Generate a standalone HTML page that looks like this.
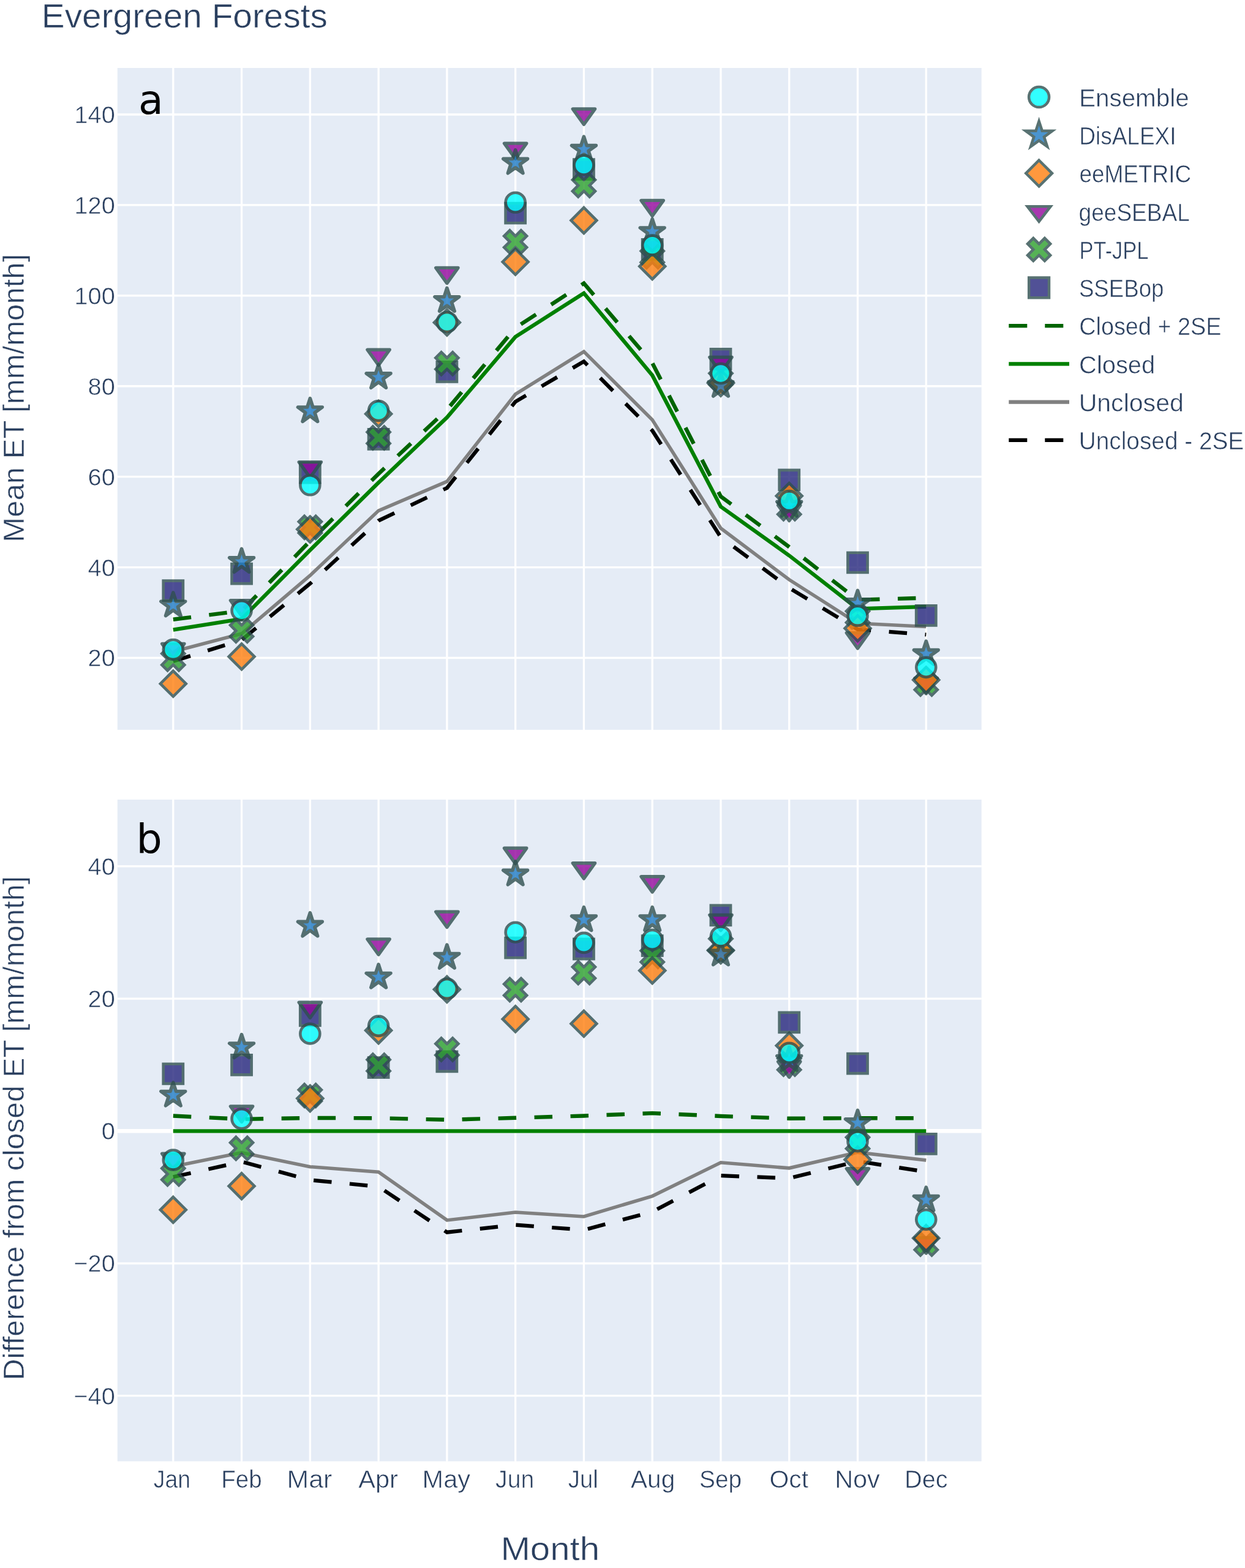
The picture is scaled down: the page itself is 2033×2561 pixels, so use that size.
<!DOCTYPE html>
<html lang="en"><head><meta charset="utf-8"><title>Evergreen Forests</title>
<style>html,body{margin:0;padding:0;background:#fff}body{width:2033px;height:2561px;overflow:hidden}svg{display:block}text{font-family:"Liberation Sans",sans-serif;fill:#2a3f5f;stroke:#fff;stroke-width:0.6px}.ann{font-family:"DejaVu Sans",sans-serif;fill:#000;stroke:none}</style>
</head><body>
<svg width="2033" height="2561" viewBox="0 0 2033 2561">
<defs>
<g id="m-circle" fill="#00ffff" stroke="#2f4f4f" stroke-width="4.6" opacity="0.8"><circle r="16"/></g>
<g id="l-circle" fill="#00ffff" stroke="#2f4f4f" stroke-width="4.5" opacity="0.8"><circle r="16.5"/></g>
<g id="m-star" fill="#1e7ac4" stroke="#2f4f4f" stroke-width="4.6" opacity="0.8"><path d="M4.7,-6.46H19.88L7.59,2.47L12.29,16.91L0,7.98L-12.29,16.91L-7.59,2.47L-19.88,-6.46H-4.7L0,-20.9Z" stroke-linejoin="round" stroke-width="5.6"/></g>
<g id="l-star" fill="#1e7ac4" stroke="#2f4f4f" stroke-width="4.5" opacity="0.8"><path d="M5.17,-7.09H21.83L8.33,2.71L13.5,18.57L0,8.77L-13.5,18.57L-8.33,2.71L-21.83,-7.09H-5.17L0,-22.96Z"/></g>
<g id="m-diamond" fill="#ff7f0e" stroke="#2f4f4f" stroke-width="4.6" opacity="0.8"><path d="M0,-20.9L20.9,0L0,20.9L-20.9,0Z"/></g>
<g id="l-diamond" fill="#ff7f0e" stroke="#2f4f4f" stroke-width="4.5" opacity="0.8"><path d="M0,-21.32L21.32,0L0,21.32L-21.32,0Z"/></g>
<g id="m-tri" fill="#93069c" stroke="#2f4f4f" stroke-width="4.6" opacity="0.8"><path d="M-18.15,-8.4H18.15L0,16.9Z" stroke-linejoin="round" stroke-width="5.4"/></g>
<g id="l-tri" fill="#93069c" stroke="#2f4f4f" stroke-width="4.5" opacity="0.8"><path d="M-18.94,-8.2H18.94L0,16.4Z"/></g>
<g id="m-x" fill="#2ca02c" stroke="#2f4f4f" stroke-width="4.6" opacity="0.8"><path d="M0,9.25l9.25,9.25l9.25,-9.25l-9.25,-9.25l9.25,-9.25l-9.25,-9.25l-9.25,9.25l-9.25,-9.25l-9.25,9.25l9.25,9.25l-9.25,9.25l9.25,9.25Z"/></g>
<g id="l-x" fill="#2ca02c" stroke="#2f4f4f" stroke-width="4.5" opacity="0.8"><path d="M0,9.28l9.28,9.28l9.28,-9.28l-9.28,-9.28l9.28,-9.28l-9.28,-9.28l-9.28,9.28l-9.28,-9.28l-9.28,9.28l9.28,9.28l-9.28,9.28l9.28,9.28Z"/></g>
<g id="m-square" fill="#26267c" stroke="#2f4f4f" stroke-width="4.6" opacity="0.8"><path d="M-16.1,-16.1H16.1V16.1H-16.1Z"/></g>
<g id="l-square" fill="#26267c" stroke="#2f4f4f" stroke-width="4.5" opacity="0.8"><path d="M-16.4,-16.4H16.4V16.4H-16.4Z"/></g>
<clipPath id="c1"><rect x="191.8" y="111" width="1410.9" height="1081"/></clipPath>
<clipPath id="c2"><rect x="191.8" y="1306" width="1410.9" height="1080.7"/></clipPath>
</defs>
<rect width="2033" height="2561" fill="#fff"/>
<g id="plot1">
<rect x="191.8" y="111" width="1410.9" height="1081" fill="#e5ecf6"/>
<path d="M282.8,111V1192M394.57,111V1192M506.34,111V1192M618.11,111V1192M729.88,111V1192M841.65,111V1192M953.42,111V1192M1065.19,111V1192M1176.96,111V1192M1288.73,111V1192M1400.5,111V1192M1512.27,111V1192M191.8,1074.52H1602.7M191.8,926.6H1602.7M191.8,778.68H1602.7M191.8,630.76H1602.7M191.8,482.84H1602.7M191.8,334.92H1602.7M191.8,187H1602.7" stroke="#fff" stroke-width="3.3" fill="none"/>
<g clip-path="url(#c1)">
<path d="M282.8,1079.99L394.57,1045.23L506.34,953.23L618.11,850.42L729.88,796.95L841.65,656.02L953.42,590.34L1065.19,703.24L1176.96,877.34L1288.73,960.18L1400.5,1028L1512.27,1036.5" fill="none" stroke="#000000" stroke-width="6.2" stroke-dasharray="29.5 29.5" stroke-linejoin="miter"/>
<path d="M282.8,1064.31L394.57,1035.03L506.34,939.93L618.11,834.08L729.88,786.42L841.65,643.97L953.42,574.33L1065.19,685.71L1176.96,862.7L1288.73,946.79L1400.5,1018.09L1512.27,1023.56" fill="none" stroke="#808080" stroke-width="5.6" stroke-linejoin="miter"/>
<path d="M282.8,1028.66L394.57,1010.91L506.34,898.5L618.11,788.29L729.88,681.79L841.65,550.14L953.42,478.77L1065.19,613.01L1176.96,827.49L1288.73,907.37L1400.5,994.27L1512.27,990.95" fill="none" stroke="#008000" stroke-width="6.2" stroke-linejoin="miter"/>
<path d="M282.8,1011.73L394.57,997.68L506.34,883.85L618.11,773.87L729.88,669.22L841.65,535.43L953.42,462.76L1065.19,593.04L1176.96,810.85L1288.73,893.32L1400.5,979.85L1512.27,976.52" fill="none" stroke="#006400" stroke-width="6.4" stroke-dasharray="29.5 29.5" stroke-linejoin="miter"/>
<g><use href="#m-square" x="282.8" y="964.69"/><use href="#m-square" x="394.57" y="937.03"/><use href="#m-square" x="506.34" y="772.08"/><use href="#m-square" x="618.11" y="717.37"/><use href="#m-square" x="729.88" y="607.33"/><use href="#m-square" x="841.65" y="348.12"/><use href="#m-square" x="953.42" y="276.58"/><use href="#m-square" x="1065.19" y="407.32"/><use href="#m-square" x="1176.96" y="586.38"/><use href="#m-square" x="1288.73" y="783.93"/><use href="#m-square" x="1400.5" y="918.83"/><use href="#m-square" x="1512.27" y="1005.37"/></g>
<g><use href="#m-x" x="282.8" y="1076.74"/><use href="#m-x" x="394.57" y="1030.29"/><use href="#m-x" x="506.34" y="861.35"/><use href="#m-x" x="618.11" y="714.93"/><use href="#m-x" x="729.88" y="593.73"/><use href="#m-x" x="841.65" y="394.87"/><use href="#m-x" x="953.42" y="302.91"/><use href="#m-x" x="1065.19" y="419.16"/><use href="#m-x" x="1176.96" y="618.93"/><use href="#m-x" x="1288.73" y="830.67"/><use href="#m-x" x="1400.5" y="1007.59"/><use href="#m-x" x="1512.27" y="1117.27"/></g>
<g><use href="#m-tri" x="282.8" y="1059.73"/><use href="#m-tri" x="394.57" y="989.1"/><use href="#m-tri" x="506.34" y="762.99"/><use href="#m-tri" x="618.11" y="579.58"/><use href="#m-tri" x="729.88" y="445.73"/><use href="#m-tri" x="841.65" y="242.51"/><use href="#m-tri" x="953.42" y="186.35"/><use href="#m-tri" x="1065.19" y="335.8"/><use href="#m-tri" x="1176.96" y="591.86"/><use href="#m-tri" x="1288.73" y="833.63"/><use href="#m-tri" x="1400.5" y="1042.05"/><use href="#m-tri" x="1512.27" y="1115.94"/></g>
<g><use href="#m-diamond" x="282.8" y="1116.68"/><use href="#m-diamond" x="394.57" y="1072.45"/><use href="#m-diamond" x="506.34" y="864.61"/><use href="#m-diamond" x="618.11" y="675.88"/><use href="#m-diamond" x="729.88" y="526.72"/><use href="#m-diamond" x="841.65" y="427.7"/><use href="#m-diamond" x="953.42" y="360.01"/><use href="#m-diamond" x="1065.19" y="435.06"/><use href="#m-diamond" x="1176.96" y="625.58"/><use href="#m-diamond" x="1288.73" y="809.96"/><use href="#m-diamond" x="1400.5" y="1026.22"/><use href="#m-diamond" x="1512.27" y="1110.61"/></g>
<g><use href="#m-star" x="282.8" y="988.73"/><use href="#m-star" x="394.57" y="917.36"/><use href="#m-star" x="506.34" y="671.5"/><use href="#m-star" x="618.11" y="616.34"/><use href="#m-star" x="729.88" y="491.22"/><use href="#m-star" x="841.65" y="265.88"/><use href="#m-star" x="953.42" y="244.11"/><use href="#m-star" x="1065.19" y="378.48"/><use href="#m-star" x="1176.96" y="630.02"/><use href="#m-star" x="1288.73" y="825.86"/><use href="#m-star" x="1400.5" y="985.32"/><use href="#m-star" x="1512.27" y="1068.09"/></g>
<g><use href="#m-circle" x="282.8" y="1060.99"/><use href="#m-circle" x="394.57" y="997.23"/><use href="#m-circle" x="506.34" y="792.27"/><use href="#m-circle" x="618.11" y="670.99"/><use href="#m-circle" x="729.88" y="525.98"/><use href="#m-circle" x="841.65" y="330.74"/><use href="#m-circle" x="953.42" y="269.63"/><use href="#m-circle" x="1065.19" y="400.67"/><use href="#m-circle" x="1176.96" y="610.05"/><use href="#m-circle" x="1288.73" y="818.1"/><use href="#m-circle" x="1400.5" y="1005.81"/><use href="#m-circle" x="1512.27" y="1089.83"/></g>
</g>
</g>
<g id="plot2">
<rect x="191.8" y="1306" width="1410.9" height="1080.7" fill="#e5ecf6"/>
<path d="M282.8,1306V2386.7M394.57,1306V2386.7M506.34,1306V2386.7M618.11,1306V2386.7M729.88,1306V2386.7M841.65,1306V2386.7M953.42,1306V2386.7M1065.19,1306V2386.7M1176.96,1306V2386.7M1288.73,1306V2386.7M1400.5,1306V2386.7M1512.27,1306V2386.7M191.8,2279.7H1602.7M191.8,2063.5H1602.7M191.8,1631.1H1602.7M191.8,1414.9H1602.7" stroke="#fff" stroke-width="3.3" fill="none"/>
<path d="M191.8,1847.3H1602.7" stroke="#fff" stroke-width="6.6" fill="none"/>
<g clip-path="url(#c2)">
<path d="M282.8,1922.32L394.57,1897.46L506.34,1927.29L618.11,1938.1L729.88,2012.69L841.65,2000.59L953.42,2008.91L1065.19,1979.18L1176.96,1920.16L1288.73,1924.48L1400.5,1896.59L1512.27,1913.89" fill="none" stroke="#000000" stroke-width="6.2" stroke-dasharray="29.5 29.5" stroke-linejoin="miter"/>
<path d="M282.8,1905.24L394.57,1882.54L506.34,1905.67L618.11,1914.21L729.88,1992.91L841.65,1980.05L953.42,1986.97L1065.19,1953.56L1176.96,1898.76L1288.73,1907.84L1400.5,1882.11L1512.27,1894.97" fill="none" stroke="#808080" stroke-width="5.6" stroke-linejoin="miter"/>
<path d="M282.8,1847.3L394.57,1847.3L506.34,1847.3L618.11,1847.3L729.88,1847.3L841.65,1847.3L953.42,1847.3L1065.19,1847.3L1176.96,1847.3L1288.73,1847.3L1400.5,1847.3L1512.27,1847.3" fill="none" stroke="#008000" stroke-width="6.2" stroke-linejoin="miter"/>
<path d="M282.8,1822.55L394.57,1827.95L506.34,1825.9L618.11,1826.22L729.88,1828.92L841.65,1825.79L953.42,1822.44L1065.19,1818.11L1176.96,1822.98L1288.73,1826.76L1400.5,1826.22L1512.27,1826.22" fill="none" stroke="#006400" stroke-width="6.4" stroke-dasharray="29.5 29.5" stroke-linejoin="miter"/>
<g><use href="#m-square" x="282.8" y="1753.79"/><use href="#m-square" x="394.57" y="1739.31"/><use href="#m-square" x="506.34" y="1658.88"/><use href="#m-square" x="618.11" y="1743.63"/><use href="#m-square" x="729.88" y="1733.79"/><use href="#m-square" x="841.65" y="1548.08"/><use href="#m-square" x="953.42" y="1550.02"/><use href="#m-square" x="1065.19" y="1544.62"/><use href="#m-square" x="1176.96" y="1494.89"/><use href="#m-square" x="1288.73" y="1669.8"/><use href="#m-square" x="1400.5" y="1737.04"/><use href="#m-square" x="1512.27" y="1868.38"/></g>
<g><use href="#m-x" x="282.8" y="1917.57"/><use href="#m-x" x="394.57" y="1875.62"/><use href="#m-x" x="506.34" y="1789.36"/><use href="#m-x" x="618.11" y="1740.06"/><use href="#m-x" x="729.88" y="1713.9"/><use href="#m-x" x="841.65" y="1616.4"/><use href="#m-x" x="953.42" y="1588.51"/><use href="#m-x" x="1065.19" y="1561.92"/><use href="#m-x" x="1176.96" y="1542.46"/><use href="#m-x" x="1288.73" y="1738.12"/><use href="#m-x" x="1400.5" y="1866.76"/><use href="#m-x" x="1512.27" y="2031.93"/></g>
<g><use href="#m-tri" x="282.8" y="1892.7"/><use href="#m-tri" x="394.57" y="1815.41"/><use href="#m-tri" x="506.34" y="1645.59"/><use href="#m-tri" x="618.11" y="1542.24"/><use href="#m-tri" x="729.88" y="1497.6"/><use href="#m-tri" x="841.65" y="1393.71"/><use href="#m-tri" x="953.42" y="1418.14"/><use href="#m-tri" x="1065.19" y="1440.09"/><use href="#m-tri" x="1176.96" y="1502.89"/><use href="#m-tri" x="1288.73" y="1742.44"/><use href="#m-tri" x="1400.5" y="1917.13"/><use href="#m-tri" x="1512.27" y="2029.99"/></g>
<g><use href="#m-diamond" x="282.8" y="1975.94"/><use href="#m-diamond" x="394.57" y="1937.24"/><use href="#m-diamond" x="506.34" y="1794.11"/><use href="#m-diamond" x="618.11" y="1682.99"/><use href="#m-diamond" x="729.88" y="1615.97"/><use href="#m-diamond" x="841.65" y="1664.39"/><use href="#m-diamond" x="953.42" y="1671.96"/><use href="#m-diamond" x="1065.19" y="1585.16"/><use href="#m-diamond" x="1176.96" y="1552.19"/><use href="#m-diamond" x="1288.73" y="1707.85"/><use href="#m-diamond" x="1400.5" y="1894"/><use href="#m-diamond" x="1512.27" y="2022.21"/></g>
<g><use href="#m-star" x="282.8" y="1788.93"/><use href="#m-star" x="394.57" y="1710.55"/><use href="#m-star" x="506.34" y="1511.87"/><use href="#m-star" x="618.11" y="1595.97"/><use href="#m-star" x="729.88" y="1564.08"/><use href="#m-star" x="841.65" y="1427.87"/><use href="#m-star" x="953.42" y="1502.57"/><use href="#m-star" x="1065.19" y="1502.46"/><use href="#m-star" x="1176.96" y="1558.67"/><use href="#m-star" x="1288.73" y="1731.09"/><use href="#m-star" x="1400.5" y="1834.22"/><use href="#m-star" x="1512.27" y="1960.05"/></g>
<g><use href="#m-circle" x="282.8" y="1894.54"/><use href="#m-circle" x="394.57" y="1827.3"/><use href="#m-circle" x="506.34" y="1688.39"/><use href="#m-circle" x="618.11" y="1675.85"/><use href="#m-circle" x="729.88" y="1614.88"/><use href="#m-circle" x="841.65" y="1522.68"/><use href="#m-circle" x="953.42" y="1539.86"/><use href="#m-circle" x="1065.19" y="1534.89"/><use href="#m-circle" x="1176.96" y="1529.49"/><use href="#m-circle" x="1288.73" y="1719.74"/><use href="#m-circle" x="1400.5" y="1864.16"/><use href="#m-circle" x="1512.27" y="1991.83"/></g>
</g>
</g>
<text x="67.84" y="45.1" font-size="55.52" textLength="467.18" lengthAdjust="spacingAndGlyphs">Evergreen Forests</text>
<text x="143.52" y="1088.42" font-size="39.3" textLength="44.31" lengthAdjust="spacingAndGlyphs">20</text>
<text x="143.52" y="940.5" font-size="39.3" textLength="44.31" lengthAdjust="spacingAndGlyphs">40</text>
<text x="143.52" y="792.58" font-size="39.3" textLength="44.31" lengthAdjust="spacingAndGlyphs">60</text>
<text x="143.52" y="644.66" font-size="39.3" textLength="44.31" lengthAdjust="spacingAndGlyphs">80</text>
<text x="121.37" y="496.74" font-size="39.3" textLength="66.46" lengthAdjust="spacingAndGlyphs">100</text>
<text x="121.37" y="348.82" font-size="39.3" textLength="66.46" lengthAdjust="spacingAndGlyphs">120</text>
<text x="121.37" y="200.9" font-size="39.3" textLength="66.46" lengthAdjust="spacingAndGlyphs">140</text>
<text x="120.26" y="2293.6" font-size="39.3" textLength="67.57" lengthAdjust="spacingAndGlyphs">−40</text>
<text x="120.26" y="2077.4" font-size="39.3" textLength="67.57" lengthAdjust="spacingAndGlyphs">−20</text>
<text x="165.67" y="1861.2" font-size="39.3" textLength="22.15" lengthAdjust="spacingAndGlyphs">0</text>
<text x="143.52" y="1645" font-size="39.3" textLength="44.31" lengthAdjust="spacingAndGlyphs">20</text>
<text x="143.52" y="1428.8" font-size="39.3" textLength="44.31" lengthAdjust="spacingAndGlyphs">40</text>
<text x="250.64" y="2429.7" font-size="39.83" textLength="60.47" lengthAdjust="spacingAndGlyphs">Jan</text>
<text x="361.24" y="2429.7" font-size="39.83" textLength="66.45" lengthAdjust="spacingAndGlyphs">Feb</text>
<text x="468.59" y="2429.7" font-size="39.83" textLength="73.81" lengthAdjust="spacingAndGlyphs">Mar</text>
<text x="585.32" y="2429.7" font-size="39.83" textLength="64.65" lengthAdjust="spacingAndGlyphs">Apr</text>
<text x="689.6" y="2429.7" font-size="39.83" textLength="78.39" lengthAdjust="spacingAndGlyphs">May</text>
<text x="809.11" y="2429.7" font-size="39.83" textLength="63.21" lengthAdjust="spacingAndGlyphs">Jun</text>
<text x="927.82" y="2429.7" font-size="39.83" textLength="49.02" lengthAdjust="spacingAndGlyphs">Jul</text>
<text x="1030.02" y="2429.7" font-size="39.83" textLength="72.29" lengthAdjust="spacingAndGlyphs">Aug</text>
<text x="1142.05" y="2429.7" font-size="39.83" textLength="69.15" lengthAdjust="spacingAndGlyphs">Sep</text>
<text x="1256.58" y="2429.7" font-size="39.83" textLength="63.59" lengthAdjust="spacingAndGlyphs">Oct</text>
<text x="1363.2" y="2429.7" font-size="39.83" textLength="73.63" lengthAdjust="spacingAndGlyphs">Nov</text>
<text x="1477.05" y="2429.7" font-size="39.83" textLength="70.49" lengthAdjust="spacingAndGlyphs">Dec</text>
<text x="817.43" y="2547.6" font-size="54.36" textLength="161.61" lengthAdjust="spacingAndGlyphs">Month</text>
<text x="-885.72" y="39.2" font-size="48.4" textLength="471" lengthAdjust="spacingAndGlyphs" transform="rotate(-90)">Mean ET [mm/month]</text>
<text x="-2254.25" y="39.2" font-size="48.4" textLength="823.08" lengthAdjust="spacingAndGlyphs" transform="rotate(-90)">Difference from closed ET [mm/month]</text>
<text x="226.11" y="186" font-size="66.5" textLength="40.75" lengthAdjust="spacingAndGlyphs" class="ann">a</text>
<text x="222.62" y="1392.7" font-size="66.5" textLength="42.21" lengthAdjust="spacingAndGlyphs" class="ann">b</text>
<g id="legend">
<use href="#l-circle" x="1696.6" y="158.6"/>
<text x="1761.98" y="173.9" font-size="41.06" textLength="179.79" lengthAdjust="spacingAndGlyphs">Ensemble</text>
<use href="#l-star" x="1696.6" y="220.85"/>
<text x="1762.27" y="236.15" font-size="41.06" textLength="158.31" lengthAdjust="spacingAndGlyphs">DisALEXI</text>
<use href="#l-diamond" x="1696.6" y="283.1"/>
<text x="1762.45" y="298.4" font-size="41.06" textLength="182.73" lengthAdjust="spacingAndGlyphs">eeMETRIC</text>
<use href="#l-tri" x="1696.6" y="345.35"/>
<text x="1761.54" y="360.65" font-size="41.06" textLength="181.4" lengthAdjust="spacingAndGlyphs">geeSEBAL</text>
<use href="#l-x" x="1696.6" y="407.6"/>
<text x="1762.47" y="422.9" font-size="41.06" textLength="113.06" lengthAdjust="spacingAndGlyphs">PT-JPL</text>
<use href="#l-square" x="1696.6" y="469.85"/>
<text x="1761.95" y="485.15" font-size="41.06" textLength="138.46" lengthAdjust="spacingAndGlyphs">SSEBop</text>
<path d="M1647.3,532.1H1746" fill="none" stroke="#006400" stroke-width="6.4" stroke-dasharray="30 29"/>
<text x="1762.21" y="547.4" font-size="41.06" textLength="232.26" lengthAdjust="spacingAndGlyphs">Closed + 2SE</text>
<path d="M1647.3,594.35H1746" fill="none" stroke="#008000" stroke-width="6.4"/>
<text x="1762.11" y="609.65" font-size="41.06" textLength="124.04" lengthAdjust="spacingAndGlyphs">Closed</text>
<path d="M1647.3,656.6H1746" fill="none" stroke="#808080" stroke-width="6.4"/>
<text x="1761.64" y="671.9" font-size="41.06" textLength="171.19" lengthAdjust="spacingAndGlyphs">Unclosed</text>
<path d="M1647.3,718.85H1746" fill="none" stroke="#000000" stroke-width="6.4" stroke-dasharray="30 29"/>
<text x="1761.81" y="734.15" font-size="41.06" textLength="269.41" lengthAdjust="spacingAndGlyphs">Unclosed - 2SE</text>
</g>
</svg></body></html>
